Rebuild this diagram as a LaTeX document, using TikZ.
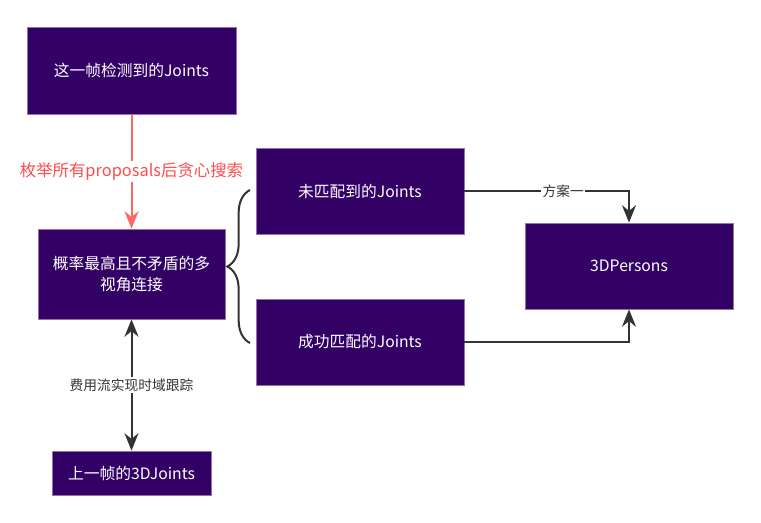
\documentclass[tikz,border=0pt]{standalone}
\usepackage{fontspec}
\setmainfont{Noto Sans CJK SC}
\usetikzlibrary{arrows.meta, positioning, calc, decorations.pathreplacing}
\definecolor{JointPurple}{HTML}{330066}
\definecolor{JointBorder}{HTML}{9673A6}
\definecolor{EdgeGray}{HTML}{333333}
\definecolor{SearchRed}{HTML}{FF6666}
\definecolor{SearchText}{HTML}{FF4C4C}
\tikzset{
    % Purple boxes with sharp corners
    joint box/.style={
        rectangle,
        draw=JointBorder,
        fill=JointPurple,
        text=white,
        line width=0.6pt,
        minimum width=156pt,
        minimum height=64.5pt,
        align=center,
        inner sep=2pt,
        font=\fontsize{11.8}{16}\selectfont
    },
    arrow style/.style={
        -{Stealth[length=13pt,width=10.5pt]},
        line width=1.5pt,
        EdgeGray
    },
    biarrow style/.style={
        {Stealth[length=13pt,width=10.5pt]}-{Stealth[length=13pt,width=10.5pt]},
        line width=1.5pt,
        EdgeGray
    },
    search arrow/.style={
        -{Stealth[length=13pt,width=10.5pt]},
        line width=1.5pt,
        SearchRed
    },
    edge label/.style={
        fill=white,
        inner sep=1pt,
        text=EdgeGray,
        font=\fontsize{10.3}{12}\selectfont
    },
    brace style/.style={
        decorate,
        decoration={brace, amplitude=17pt},
        line width=1.5pt,
        EdgeGray
    }
}
\begin{document}
\begin{tikzpicture}[x=0.75pt, y=-0.75pt]
        \useasboundingbox (0,0) rectangle (761,522);

        % Left column
        \node[joint box, minimum width=156.75pt, minimum height=65.25pt] (detected) at (131.5, 70.5) {这一帧检测到的Joints};
        \node[joint box, minimum width=140.25pt, minimum height=67.5pt] (best-view) at (131.5, 274) {概率最高且不矛盾的多\\视角连接};
        \node[joint box, minimum width=119.25pt, minimum height=33pt] (last-frame) at (131.5, 473) {上一帧的3DJoints};

        % Middle column
        \node[joint box] (unmatched) at (360, 191) {未匹配到的Joints};
        \node[joint box] (matched) at (360, 342) {成功匹配的Joints};

        % Right
        \node[joint box] (persons) at (629, 266) {3DPersons};

        % Brace to the middle boxes
        \coordinate (brace-bottom) at (250, 343);
        \coordinate (brace-top) at (250, 190);
        \draw[brace style] (brace-bottom) -- (brace-top);

        \draw[search arrow] (detected) -- node[fill=white, inner sep=1pt, text=SearchText, font=\fontsize{12.3}{14}\selectfont] {枚举所有proposals后贪心搜索} (best-view);
        \draw[biarrow style] (best-view) -- node[edge label] {费用流实现时域跟踪} (last-frame);
        \draw[arrow style] (unmatched.east) -| node[edge label, pos=0.3] {方案一} (persons.north);
        \draw[arrow style] (matched.east) -| (persons.south);
    \end{tikzpicture}
\end{document}
